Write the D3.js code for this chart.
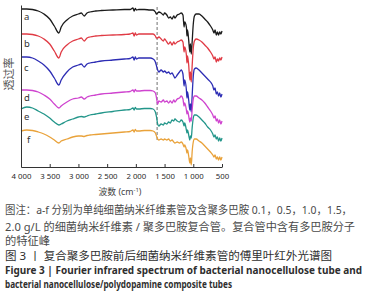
<!DOCTYPE html>
<html>
<head>
<meta charset="utf-8">
<script src="https://cdn.jsdelivr.net/npm/d3@7"></script>
<style>
  body { margin: 0; background: #fff; }
  text { font-family: "Noto Sans", "Noto Sans CJK SC", sans-serif; }
</style>
</head>
<body>
<div id="chart"></div>
<script>
// wavenumbers (cm-1) shared by all spectra
const wavenumbers = [4000, 3900, 3800, 3700, 3600, 3500, 3420, 3340, 3300, 3200,
  3100, 3000, 2950, 2900, 2850, 2800, 2700, 2600, 2400, 2200,
  2100, 2050, 2030, 2010, 1990, 1950, 1850, 1750, 1700, 1660,
  1640, 1620, 1600, 1560, 1520, 1500, 1460, 1430, 1400, 1370,
  1340, 1320, 1280, 1240, 1210, 1180, 1160, 1150, 1120, 1110,
  1100, 1080, 1060, 1050, 1035, 1020, 1000, 980, 950, 900,
  850, 800, 750, 700, 660, 640, 620, 600, 580, 560,
  540, 520, 500]

// transmittance, stacked (a.u.)
const specA = [158, 158, 157.5, 156, 153, 148, 141, 134, 140, 147,
  151, 153, 154, 151, 154, 155, 156, 156.5, 157, 157.5,
  157.5, 159, 156, 158.5, 157, 157.5, 157.5, 157, 157, 155,
  153, 154, 155, 154, 152, 154, 152, 149, 150, 148,
  151, 149, 152, 153, 154, 152, 140, 145, 140, 131,
  137, 127, 115, 123, 113, 125, 143, 151, 153, 153,
  151, 148, 145, 141, 137, 134, 137, 132, 135, 132,
  135, 133, 136]
const specB = [133, 133, 132.5, 131, 128, 123, 116, 109, 115, 122,
  126, 128, 129, 126, 129, 130, 131, 131.5, 132, 132.5,
  133, 134, 131, 134, 132, 133, 133, 133, 133, 131,
  129, 129, 130, 128, 126, 128, 125, 123, 125, 122,
  125, 123, 125, 126, 127, 125, 115, 120, 112, 104,
  111, 102, 87, 95, 85, 101, 119, 126, 128, 127,
  125, 122, 119, 115, 111, 108, 110, 105, 108, 106,
  109, 107, 110]
const specC = [110, 110, 109, 106, 102, 96, 89, 82, 87, 95,
  100, 102, 103, 100, 103, 104, 105, 106, 107, 108,
  108.5, 110, 107, 110, 108, 109, 109, 109, 108, 105,
  101, 97, 95, 97, 95, 96, 94, 95, 93, 94,
  91, 89, 92, 95, 97, 93, 81, 87, 77, 69,
  75, 67, 57, 63, 55, 71, 91, 98, 99, 97,
  94, 91, 88, 85, 81, 77, 79, 73, 75, 71,
  74, 70, 73]
const specD = [77, 77, 76.5, 75, 72, 68, 63, 59, 61, 65,
  68, 69, 70, 68, 70, 71, 72, 73, 74, 75,
  75.5, 77, 75, 77.5, 76, 76, 76.5, 76.5, 76, 74,
  69, 63, 66, 65, 67, 65, 66, 64, 66, 64,
  67, 65, 68, 69, 71, 68, 61, 64, 57, 53,
  56, 51, 45, 49, 46, 57, 68, 71, 71, 69,
  67, 64, 60, 56, 52, 49, 51, 46, 48, 44,
  47, 43, 46]
const specE = [58, 60, 59, 56, 53, 49, 45, 42, 43, 46,
  48, 50, 50.5, 50, 51, 52, 53, 54, 55.5, 57,
  57.5, 59, 57, 59.5, 58, 58, 58.5, 58.5, 58, 55,
  50, 43, 41, 43, 42, 44, 43, 45, 44, 47,
  46, 48, 46, 45, 47, 45, 41, 44, 37, 34,
  37, 32, 27, 31, 29, 39, 49, 52, 52, 50,
  47, 44, 40, 37, 33, 30, 32, 28, 30, 26,
  29, 26, 29]
const specF = [36, 37, 36.5, 35, 33, 30, 27, 24, 26, 28,
  30, 31, 31, 30.5, 31.5, 32, 32.5, 33, 34, 35,
  35.5, 37, 35, 37.5, 36, 36, 36.5, 36.5, 36, 34,
  31, 28, 27, 28, 27, 28, 27, 28, 26, 27,
  25, 24, 25, 24, 25, 23, 20, 22, 17, 14,
  17, 11, 4, 9, 2, 15, 25, 28, 28, 26,
  24, 21, 18, 15, 12, 10, 12, 8, 10, 7,
  10, 7, 10]

const seriesNames = ["a", "b", "c", "d", "e", "f"]
const seriesColors = ["#1b1b1b", "#e03a44", "#2d2db4", "#cf44cf", "#23968a", "#e9a23a"]
// label anchor value (left end of each trace)
const labelValues = [150, 123, 99, 69, 50, 27]

const xTicks = [4000, 3500, 3000, 2500, 2000, 1500, 1000, 500]
const dashedAt = 1630

const captionLines = [
  "图注：a-f 分别为单纯细菌纳米纤维素管及含聚多巴胺 0.1，0.5，1.0，1.5，",
  "2.0 g/L 的细菌纳米纤维素 / 聚多巴胺复合管。复合管中含有多巴胺分子",
  "的特征峰",
  "图 3 丨 复合聚多巴胺前后细菌纳米纤维素管的傅里叶红外光谱图",
  "Figure 3  |  Fourier infrared spectrum of bacterial nanocellulose tube and",
  "bacterial nanocellulose/polydopamine composite tubes"
]

const W = 367, H = 300
const PLOT = { LEFT: 21, RIGHT: 222, TOP: 5, BOTTOM: 167 }

const svg = d3.select("#chart").append("svg")
  .attr("width", W)
  .attr("height", H)

const x = d3.scaleLinear().domain([4000, 500]).range([PLOT.LEFT, PLOT.RIGHT])
const y = d3.scaleLinear().domain([0, 162]).range([PLOT.BOTTOM, PLOT.TOP])

// dashed marker line
svg.append("line")
  .attr("x1", x(dashedAt)).attr("x2", x(dashedAt))
  .attr("y1", y(160)).attr("y2", y(27))
  .attr("stroke", "#6f6f6f")
  .attr("stroke-width", 1)
  .attr("stroke-dasharray", "3,2")

// spectra
const spectra = [specA, specB, specC, specD, specE, specF]
const line = d3.line()
  .x((d, i) => x(wavenumbers[i]))
  .y(d => y(d))
  .curve(d3.curveMonotoneX)

spectra.forEach((s, k) => {
  svg.append("path")
    .datum(s)
    .attr("fill", "none")
    .attr("stroke", seriesColors[k])
    .attr("stroke-width", 1.3)
    .attr("stroke-linejoin", "round")
    .attr("d", line)
})

// trace letters
svg.selectAll(".lbl")
  .data(seriesNames)
  .enter()
  .append("text")
  .attr("class", "lbl")
  .attr("x", (d, i) => i === 5 ? 27 : 24)
  .attr("y", (d, i) => y(labelValues[i]) + 3)
  .attr("font-size", 9.5)
  .attr("fill", "#333")
  .text(d => d)

// axes
const fmt = d => d >= 1000 ? Math.floor(d / 1000) + " " + String(d % 1000).padStart(3, "0") : String(d)

const xAxis = svg.append("g")
  .attr("transform", "translate(0," + PLOT.BOTTOM + ")")
  .call(d3.axisBottom(x).tickValues(xTicks).tickFormat(fmt).tickSizeInner(-3).tickSizeOuter(0).tickPadding(6))
xAxis.selectAll("text").attr("font-size", 7.8).attr("fill", "#2a2a2a").attr("font-family", "Noto Sans")
xAxis.selectAll("line,path").attr("stroke", "#333")

const yAxis = svg.append("g")
  .attr("transform", "translate(" + PLOT.LEFT + ",0)")
  .call(d3.axisLeft(y).tickValues([]).tickSizeOuter(0))
yAxis.select("path").attr("stroke", "#333")

// axis titles
svg.append("text")
  .attr("x", 120)
  .attr("y", 195)
  .attr("text-anchor", "middle")
  .attr("font-size", 8.8)
  .attr("fill", "#444")
  .html('波数 (cm<tspan dy="-3" font-size="6">-1</tspan><tspan dy="3">)</tspan>')

svg.append("text")
  .attr("transform", "translate(13,74) rotate(-90)")
  .attr("text-anchor", "middle")
  .attr("font-size", 11)
  .attr("fill", "#555")
  .attr("font-family", "Noto Sans CJK SC")
  .text("透过率")

// caption
const capY = [214, 231, 245, 260, 274, 288]
const capEnd = [352, 355, 50, 332, 362, 232]
captionLines.forEach((t, i) => {
  svg.append("text")
    .attr("x", 5)
    .attr("y", capY[i])
    .attr("font-size", i >= 4 ? 9.8 : 10.8)
    .attr("font-weight", i >= 4 ? "bold" : "normal")
    .attr("font-family", i >= 4 ? "Open Sans" : "Noto Sans CJK SC")
    .attr("fill", i < 3 ? "#4a4a4a" : "#2e2e2e")
    .attr("textLength", capEnd[i] - 5)
    .attr("lengthAdjust", "spacingAndGlyphs")
    .text(t)
})
</script>
</body>
</html>
